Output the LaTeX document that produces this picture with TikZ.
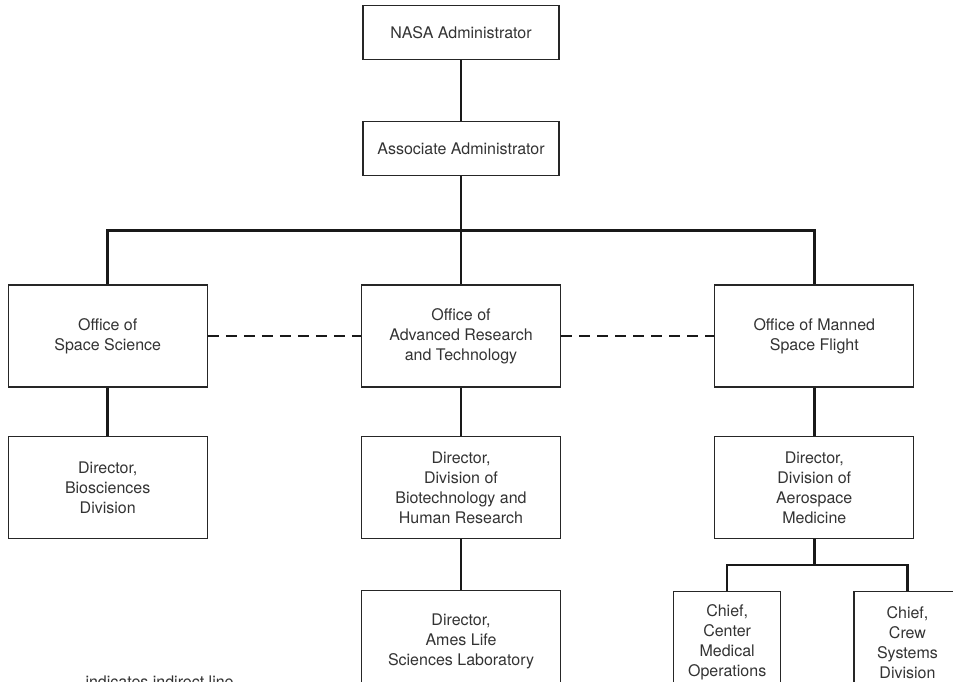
\documentclass[tikz,border=0pt]{standalone}
\usepackage{fontspec}
\setmainfont{TeX Gyre Heros}
\usetikzlibrary{
        calc,
        positioning
    }
\tikzset{
    box/.style={draw=black!85,line width=1.3pt,text=black!80,align=center,inner sep=0pt,font=\fontsize{16}{20}\selectfont},
    headbox/.style={box,minimum width=196pt,minimum height=54pt},
    office/.style={box,minimum width=199pt,minimum height=102pt},
    chief/.style={box,minimum width=107pt,minimum height=102pt},
    link/.style={line width=2.6pt,draw=black!90},
    indirect/.style={link,dash pattern=on 11pt off 7pt}
}

\begin{document}
\begin{tikzpicture}[x=1pt,y=-1pt,node distance=48pt]
            \useasboundingbox (0,0) rectangle (953,682);
            \node[office] (oart) at (461,336) {Office of\\Advanced Research\\and Technology};
            \node[office] (oss)  [left=153pt of oart]    {Office of\\Space Science};
            \node[office] (omsf) [right=153pt of oart]   {Office of Manned\\Space Flight};
            \node[headbox] (assoc) [above=108pt of oart] {Associate Administrator};
            \node[headbox] (nasa)  [above=61pt of assoc] {NASA Administrator};
            \node[office] (dbio) [below=of oss]          {Director,\\Biosciences\\Division};
            \node[office] (dbhr) [below=of oart]         {Director,\\Division of\\Biotechnology and\\Human Research};
            \node[office] (dam)  [below=of omsf]         {Director,\\Division of\\Aerospace\\Medicine};
            \node[office] (ames) [below=51pt of dbhr]    {Director,\\Ames Life\\Sciences Laboratory};
            \node[chief] (cmo) [below=52pt of dam.south west,xshift=13pt] {Chief,\\Center\\Medical\\Operations};
            \node[chief] (csd) [below=52pt of dam.south east,xshift=-7pt] {Chief,\\Crew\\Systems\\Division};
            \node[anchor=base west,text=black!80,font=\fontsize{16}{20}\selectfont] (note) at (82,687) {indicates indirect line};
            \coordinate (bus)  at ($(assoc.south)!0.5!(oart.north)$);
            \coordinate (fork) at ($(dam.south)!0.5!(dam.south |- cmo.north)$);
            \path[link]
                (nasa)  edge (assoc)
                (assoc) edge (oart)
                (oss)   edge (dbio)
                (oart)  edge (dbhr)
                (dbhr)  edge (ames)
                (omsf)  edge (dam)
                (dam)   edge (fork)
            ;
            \draw[link] (cmo.north) |- (fork) -| (csd.north);
            \draw[link] (oss.north) |- (bus) -| (omsf.north);
            \path[indirect]
                (oss)  edge (oart)
                (oart) edge (omsf)
            ;
        \end{tikzpicture}
\end{document}
